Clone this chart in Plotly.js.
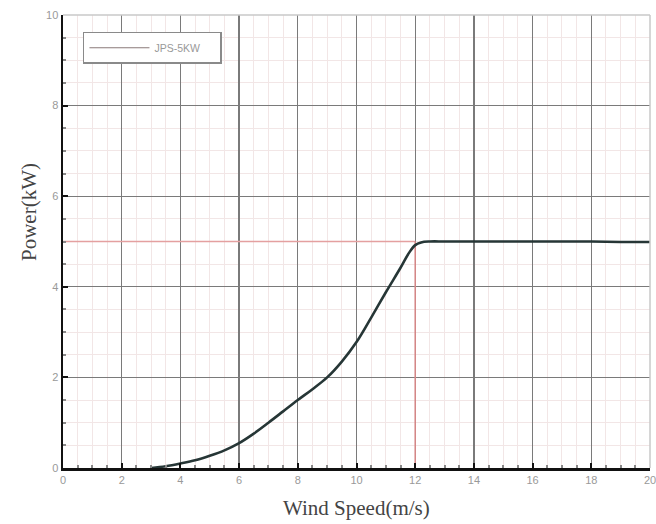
<!DOCTYPE html>
<html>
<head>
<meta charset="utf-8">
<script src="https://cdn.plot.ly/plotly-3.0.1.min.js"></script>
<style>html,body{margin:0;padding:0;background:#fff;}</style>
</head>
<body>
<div id="chart" style="width:656px;height:524px;"></div>
<script>
const windSpeed = [3, 3.5, 4, 4.5, 5, 5.5, 6, 6.5, 7, 7.5, 8, 8.5, 9, 9.5, 10, 10.5, 11, 11.5, 11.8, 12, 12.2, 12.5, 13, 14, 15, 16, 17, 18, 19, 20];
const power     = [0, 0.04, 0.1, 0.17, 0.27, 0.39, 0.55, 0.76, 1.0, 1.25, 1.5, 1.74, 2.0, 2.35, 2.78, 3.32, 3.88, 4.42, 4.76, 4.92, 4.98, 5.0, 5.0, 5.0, 5.0, 5.0, 5.0, 5.0, 4.99, 4.99];
const seriesName = "JPS-5KW";
const ratedSpeed = 12;
const ratedPower = 5;
const xTicks = [0, 2, 4, 6, 8, 10, 12, 14, 16, 18, 20];
const yTicks = [0, 2, 4, 6, 8, 10];

const traces = [
  {
    x: [0, ratedSpeed],
    y: [ratedPower, ratedPower],
    mode: "lines",
    line: {color: "#e4a0a0", width: 1.5},
    showlegend: false,
    hoverinfo: "skip"
  },
  {
    x: [ratedSpeed, ratedSpeed],
    y: [ratedPower, 0],
    mode: "lines",
    line: {color: "#d88888", width: 1.5},
    showlegend: false,
    hoverinfo: "skip"
  },
  {
    x: windSpeed,
    y: power,
    name: seriesName,
    mode: "lines",
    showlegend: false,
    line: {color: "#263636", width: 2.6, shape: "spline", smoothing: 1}
  },
  {
    x: [null],
    y: [null],
    name: seriesName + "\u00a0\u00a0\u00a0\u00a0\u00a0",
    mode: "lines",
    showlegend: true,
    line: {color: "#8a7a78", width: 1.2}
  }
];

const layout = {
  width: 656, height: 524,
  margin: {l: 63, r: 6, t: 15, b: 56},
  paper_bgcolor: "#fff",
  plot_bgcolor: "#fff",
  showlegend: true,
  legend: {
    x: 0.034, y: 0.963, xanchor: "left", yanchor: "top",
    bgcolor: "#fff", bordercolor: "#8a8a8a", borderwidth: 1.5,
    font: {family: "Liberation Sans, Arial, sans-serif", size: 10.5, color: "#999"},
    itemwidth: 60,
    tracegroupgap: 0
  },
  xaxis: {
    range: [0, 20], tickvals: xTicks, ticktext: xTicks.map(String),
    showgrid: true, gridcolor: "#7a7a7a", gridwidth: 1.3,
    showline: true, linecolor: "#111", linewidth: 2.5,
    ticks: "inside", ticklen: 5, tickwidth: 2, tickcolor: "#111",
    minor: {dtick: 0.5, showgrid: true, gridcolor: "#f2e6e6", gridwidth: 1, ticks: "inside", ticklen: 3, tickcolor: "#888"},
    tickfont: {family: "Liberation Sans, Arial, sans-serif", size: 11, color: "#999"},
    ticklabeloverflow: "allow",
    zeroline: false, fixedrange: true
  },
  yaxis: {
    range: [0, 10], tickvals: yTicks, ticktext: yTicks.map(String),
    showgrid: true, gridcolor: "#7a7a7a", gridwidth: 1.3,
    showline: true, linecolor: "#111", linewidth: 2.5,
    ticks: "inside", ticklen: 5, tickwidth: 2, tickcolor: "#111",
    minor: {dtick: 0.5, showgrid: true, gridcolor: "#f2e6e6", gridwidth: 1, ticks: "inside", ticklen: 3, tickcolor: "#888"},
    tickfont: {family: "Liberation Sans, Arial, sans-serif", size: 11, color: "#999"},
    ticklabeloverflow: "allow",
    zeroline: false, fixedrange: true
  },
  shapes: [
    {type: "line", xref: "paper", yref: "paper", x0: 0, x1: 1, y0: 1, y1: 1, line: {color: "#c8c8c8", width: 1.5}},
    {type: "line", xref: "paper", yref: "paper", x0: 1, x1: 1, y0: 0, y1: 1, line: {color: "#c8c8c8", width: 1.5}}
  ],
  annotations: [
    {text: "Wind Speed(m/s)", xref: "paper", yref: "paper", x: 0.5, y: -0.088, xanchor: "center", yanchor: "middle",
     showarrow: false, font: {family: "Liberation Serif, Times New Roman, serif", size: 21, color: "#444"}},
    {text: "Power(kW)", xref: "paper", yref: "paper", x: -0.058, y: 0.565, xanchor: "center", yanchor: "middle",
     textangle: -90, showarrow: false, font: {family: "Liberation Serif, Times New Roman, serif", size: 21, color: "#444"}}
  ]
};

Plotly.newPlot("chart", traces, layout, {displayModeBar: false, staticPlot: true});
</script>
</body>
</html>
